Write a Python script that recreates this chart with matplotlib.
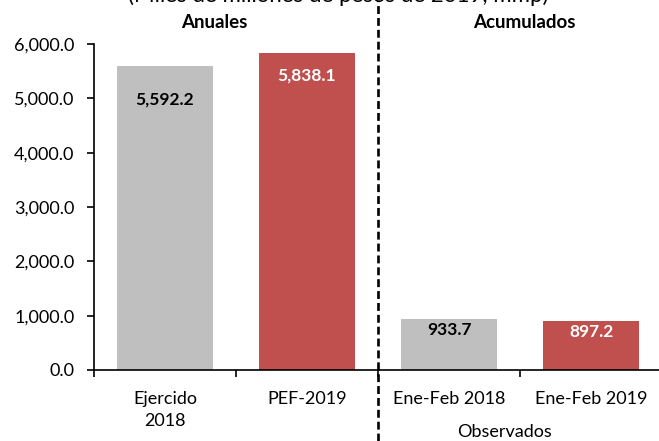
import matplotlib
matplotlib.use('Agg')
import matplotlib.pyplot as plt
import matplotlib.transforms as mtransforms
from matplotlib.lines import Line2D
from matplotlib.ticker import FuncFormatter
import numpy as np

# Data
categorias = ['Ejercido\n2018', 'PEF-2019', 'Ene-Feb 2018', 'Ene-Feb 2019']
valores = [5592.2, 5838.1, 933.7, 897.2]
colores = ['#BFBFBF', '#C0504D', '#BFBFBF', '#C0504D']
color_etiqueta = ['black', 'white', 'black', 'white']
desplaz_etiqueta = [-24, -16, -8, -8]  # points below bar top

plt.rcParams['font.family'] = ['Lato', 'DejaVu Sans']

fig = plt.figure(figsize=(6.59, 4.41), dpi=100)
ax = fig.add_axes([94 / 659, 1 - 370 / 441, 568 / 659, (370 - 44) / 441])

x = np.arange(len(categorias))
bars = ax.bar(x, valores, width=0.68, color=colores)

for b, v, c, d in zip(bars, valores, color_etiqueta, desplaz_etiqueta):
    ax.annotate(f'{v:,.1f}', (b.get_x() + b.get_width() / 2, v),
                xytext=(0, d), textcoords='offset points',
                ha='center', va='center', fontsize=12.5, fontweight='bold', color=c)

ax.set_xlim(-0.5, 3.5)
ax.set_ylim(0, 6000)
ax.set_yticks(np.arange(0, 6001, 1000))
ax.yaxis.set_major_formatter(FuncFormatter(lambda v, p: f'{v:,.1f}'))
ax.tick_params(axis='y', labelsize=13, length=5, width=1.2, direction='out', pad=9)

# category boundaries as major ticks, names on minor ticks
ax.set_xticks(np.arange(-0.5, 3.6, 1.0))
ax.set_xticklabels([])
ax.set_xticks(x, minor=True)
ax.set_xticklabels(categorias, minor=True, fontsize=13, linespacing=1.45)
ax.tick_params(axis='x', which='major', length=5, width=1.2, direction='out')
ax.tick_params(axis='x', which='minor', length=0, pad=15)

for s in ['top', 'right']:
    ax.spines[s].set_visible(False)
for s in ['left', 'bottom']:
    ax.spines[s].set_linewidth(1.2)

# dashed separator across the full figure height
trans = mtransforms.blended_transform_factory(ax.transData, fig.transFigure)
fig.add_artist(Line2D([1.5, 1.5], [0, 1], transform=trans, color='black',
                      linewidth=1.9, linestyle=(0, (3, 1.5))))

ax.text(0.35, 1 - 22 / 441, 'Anuales', transform=trans, ha='center', va='center',
        fontsize=13.5, fontweight='bold')
ax.text(2.53, 1 - 22 / 441, 'Acumulados', transform=trans, ha='center', va='center',
        fontsize=13.5, fontweight='bold')
ax.text(2.39, 1 - 432 / 441, 'Observados', transform=trans, ha='center', va='center',
        fontsize=13)

# title cut off at the top edge, as in the original
fig.text(338 / 659, 1 - 2 / 441, '(Miles de millones de pesos de 2019, mmp)',
         ha='center', va='baseline', fontsize=16)

fig.savefig('out.png', dpi=100)
